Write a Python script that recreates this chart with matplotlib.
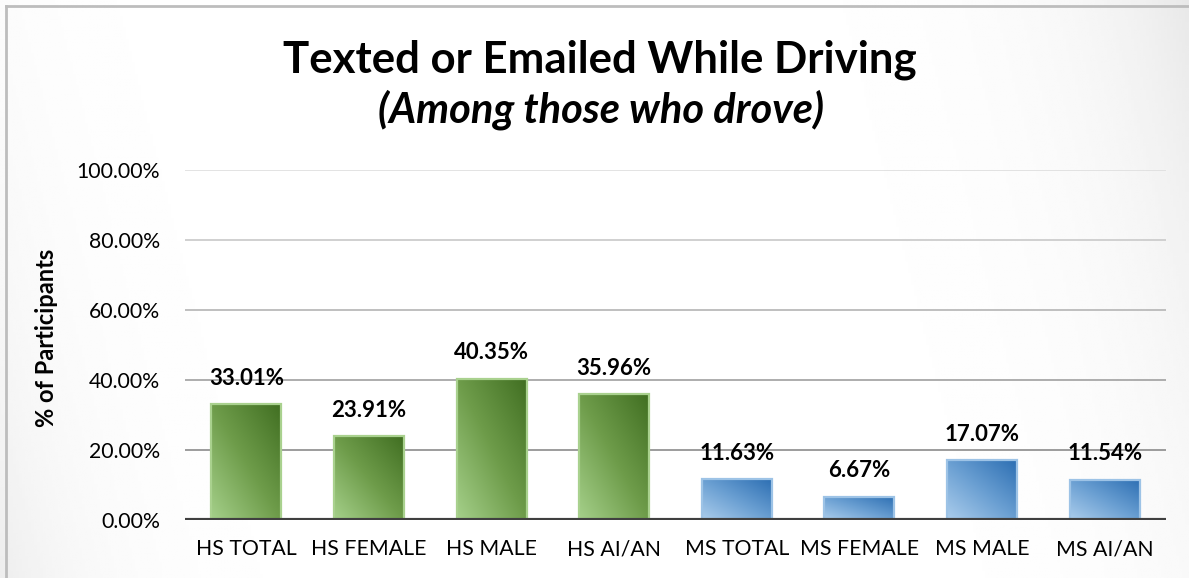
import numpy as np
import matplotlib
matplotlib.use("Agg")
import matplotlib.pyplot as plt
from matplotlib.colors import LinearSegmentedColormap
from matplotlib.patches import Rectangle
from matplotlib.lines import Line2D
from matplotlib.ticker import FuncFormatter

plt.rcParams['font.family'] = ['Lato', 'DejaVu Sans']

categories = ["HS TOTAL", "HS FEMALE", "HS MALE", "HS AI/AN",
              "MS TOTAL", "MS FEMALE", "MS MALE", "MS AI/AN"]
values = [33.01, 23.91, 40.35, 35.96, 11.63, 6.67, 17.07, 11.54]
groups = ["HS", "HS", "HS", "HS", "MS", "MS", "MS", "MS"]
yticks = [0, 20, 40, 60, 80, 100]

W, H = 1189, 578
fig = plt.figure(figsize=(W / 100, H / 100), dpi=100)

# background gradient
bg = fig.add_axes([0, 0, 1, 1], zorder=-10)
xx, yy = np.meshgrid(np.linspace(0, W, 400), np.linspace(0, H, 200))
shade = (0.07 * np.exp(-(xx + 0.25 * (H - yy)) / 90.0)
         + 0.09 * np.exp(-((W - xx) + 0.25 * yy) / 110.0))
img = 1 - shade
bg.imshow(img, cmap='gray', vmin=0, vmax=1, extent=[0, W, 0, H],
          origin='upper', aspect='auto')
bg.set_xlim(0, W)
bg.set_ylim(0, H)
bg.axis('off')
fig.add_artist(Line2D([6 / W, 6 / W], [0, 1 - 6 / H], transform=fig.transFigure,
                      color='#bdbdbd', lw=2))
fig.add_artist(Line2D([6 / W, 1], [1 - 6 / H, 1 - 6 / H], transform=fig.transFigure,
                      color='#bdbdbd', lw=2))

ax = fig.add_axes([185 / W, 1 - 520 / H, (1166 - 185) / W, (520 - 170) / H])
ax.patch.set_alpha(0)

# gridlines with graded grey
for t in yticks[1:]:
    g = 0.58 + 0.30 * (t - 20) / 80
    ax.axhline(t, color=(g, g, g), lw=1.3, zorder=1)

cmaps = {
    "HS": LinearSegmentedColormap.from_list("g", ["#a5d08a", "#6e9c4a", "#416f22"]),
    "MS": LinearSegmentedColormap.from_list("b", ["#abcdec", "#6a9fd2", "#2d6fb3"]),
}
edges = {"HS": "#a9d18e", "MS": "#9dc3e6"}

bw = 0.57
grad = np.add.outer(np.linspace(0, 1, 100)[::-1], np.linspace(0, 1, 100)) / 2
for i, (v, g) in enumerate(zip(values, groups)):
    rect = Rectangle((i - bw / 2, 0), bw, v, facecolor='none',
                     edgecolor=edges[g], lw=1.6, zorder=4)
    ax.add_patch(rect)
    im = ax.imshow(grad, cmap=cmaps[g], extent=[i - bw / 2, i + bw / 2, 0, v],
                   origin='upper', aspect='auto', zorder=3, interpolation='bilinear')
    im.set_clip_path(rect)
    ax.annotate(f"{v:.2f}%", (i, v), xytext=(0, 11), textcoords='offset points',
                ha='center', va='bottom', fontsize=16, fontweight='bold',
                color='black', zorder=6)
ax.set_xlim(-0.5, len(categories) - 0.5)
ax.set_ylim(0, 100)

ax.axhline(0, color='#404040', lw=3, zorder=5)
for s in ax.spines.values():
    s.set_visible(False)

ax.set_yticks(yticks)
ax.yaxis.set_major_formatter(FuncFormatter(lambda v, p: f"{v:.2f}%"))
ax.set_xticks(range(len(categories)))
ax.set_xticklabels(categories)
ax.tick_params(axis='both', length=0, labelsize=15.3, colors='black')
ax.tick_params(axis='y', pad=18)
ax.tick_params(axis='x', pad=14)

fig.text(47 / W, 1 - 338 / H, "% of Participants", rotation=90, ha='center',
         va='center', fontsize=17, fontweight='bold')

fig.text(600 / W, 1 - 60 / H, "Texted or Emailed While Driving", ha='center',
         va='center', fontsize=31.5, fontweight='bold')
fig.text(601 / W, 1 - 110 / H, "(Among those who drove)", ha='center',
         va='center', fontsize=30, fontweight='bold', style='italic')

fig.savefig("out.png", dpi=100)
